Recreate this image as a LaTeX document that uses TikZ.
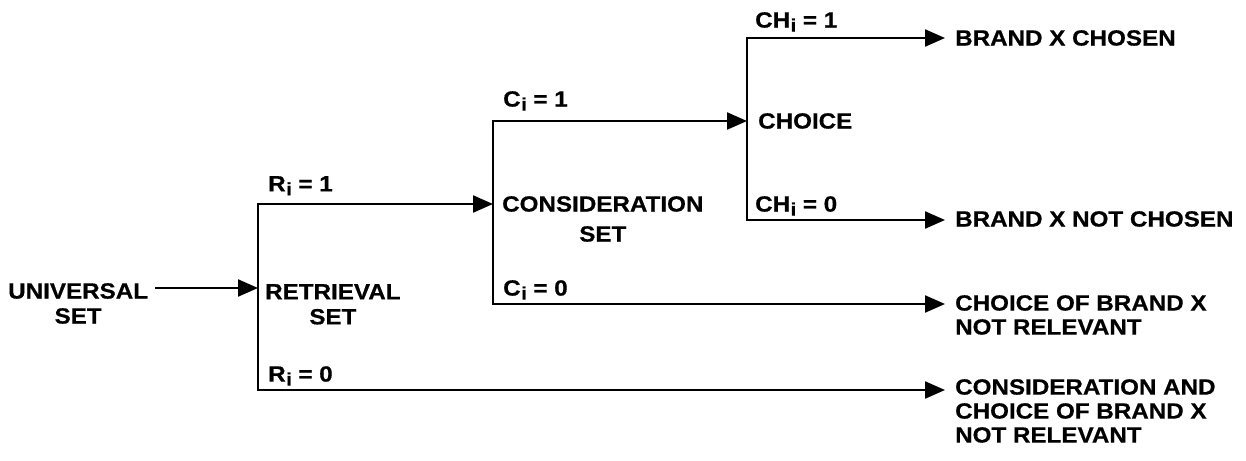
\documentclass[tikz,border=0pt]{standalone}
\usepackage{fontspec}
\setmainfont{Liberation Sans}[FakeStretch=1.1, BoldFeatures={FakeBold=0.6}]
\usetikzlibrary{arrows.meta}
\newcommand\sbi{\hspace{0.5pt}\raisebox{-4pt}{\fontsize{18}{18}\selectfont i}}
\begin{document}
\begin{tikzpicture}[x=1pt,y=-1pt,
  txt/.style={inner sep=0pt, anchor=north west, font=\bfseries\fontsize{22}{25}\selectfont},
  lab/.style={inner sep=0pt, anchor=north west, font=\bfseries\fontsize{22}{25}\selectfont},
  wire/.style={line width=2.3pt},
  arr/.style={wire, -{Triangle[length=20pt,width=17pt]}}]
\useasboundingbox (0,0) rectangle (1246,460);
% stage texts
\node[txt, align=center] (univ) at (8,283) {UNIVERSAL\\SET};
\node[txt, align=center] (retr) at (265,284) {RETRIEVAL\\SET};
\node[txt, align=center, font=\bfseries\fontsize{22}{30}\selectfont] (cons) at (502,196) {CONSIDERATION\\SET};
\node[txt] (choice) at (758,113) {CHOICE};
\node[txt] (o1) at (955,30) {BRAND X CHOSEN};
\node[txt] (o2) at (955,211) {BRAND X NOT CHOSEN};
\node[txt, align=left, font=\bfseries\fontsize{22}{24}\selectfont] (o3) at (955,295) {CHOICE OF BRAND X\\NOT RELEVANT};
\node[txt, align=left, font=\bfseries\fontsize{22}{24}\selectfont] (o4) at (955,379) {CONSIDERATION AND\\CHOICE OF BRAND X\\NOT RELEVANT};
% labels
\node[lab] (r1) at (268,176) {R\sbi{} = 1};
\node[lab] (r0) at (268,366) {R\sbi{} = 0};
\node[lab] (c1) at (503,91) {C\sbi{} = 1};
\node[lab] (c0) at (503,280) {C\sbi{} = 0};
\node[lab] (ch1) at (755,12) {CH\sbi{} = 1};
\node[lab] (ch0) at (755,196) {CH\sbi{} = 0};
% branch points
\coordinate (rIn) at (258,288);
\coordinate (rT) at (258,204);
\coordinate (rB) at (258,390);
\coordinate (cT) at (493,121);
\coordinate (cB) at (493,304);
\coordinate (hT) at (747,38);
\coordinate (hB) at (747,220);
% connectors
\draw[arr] ([xshift=7pt]univ.north east |- rIn) -- (rIn);
\draw[arr] (rB) |- (rT -| cT);
\draw[arr] (rT) |- ([xshift=-10pt]o4.west |- rB);
\draw[arr] (cB) |- (cT -| hT);
\draw[arr] (cT) |- ([xshift=-10pt]o3.west |- cB);
\draw[arr] (hB) |- ([xshift=-10pt]o1.west |- hT);
\draw[arr] (hT) |- ([xshift=-10pt]o2.west |- hB);
\end{tikzpicture}
\end{document}
